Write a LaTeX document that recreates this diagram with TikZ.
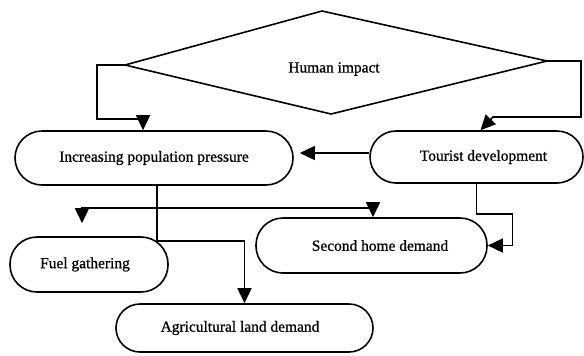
\documentclass[tikz,border=0pt]{standalone}
\usepackage{fontspec}
\setmainfont[FakeBold=0.8]{Liberation Serif}
\usetikzlibrary{arrows.meta,calc}
\begin{document}
\begin{tikzpicture}[x=1bp,y=-1bp,line width=1.6bp,
  box/.style={draw,inner sep=0pt,font=\fontsize{15.5}{18}\selectfont},
  lbl/.style={inner sep=0pt,font=\fontsize{15.5}{18}\selectfont},
  arr/.style={-{Triangle[length=15bp,width=14bp]}}]
\useasboundingbox (0,0) rectangle (584,355);
% diamond
\coordinate (dl) at (125,65);
\coordinate (dt) at (322,11);
\coordinate (dr) at (547,61);
\coordinate (db) at (331,114);
\draw[line join=miter] (dl) -- (dt) -- (dr) -- (db) -- cycle;
\node[lbl] (hi) at (334,69) {Human impact};
% boxes
\node[box,rounded corners=27bp,minimum width=278bp,minimum height=54bp] (inc) at (154,158) {Increasing population pressure};
\node[box,rounded corners=26bp,minimum width=213bp,minimum height=52bp] (tour) at (476.5,157) {\hspace*{14bp}Tourist development};
\node[box,rounded corners=27bp,minimum width=158bp,minimum height=55bp] (fuel) at (89,264.5) {Fuel gathering\hspace*{8bp}};
\node[box,rounded corners=27bp,minimum width=231bp,minimum height=55bp] (home) at (371.5,245.5) {\hspace*{17bp}Second home demand};
\node[box,rounded corners=24bp,minimum width=257bp,minimum height=48bp] (agri) at (244.5,328) {Agricultural land demand\hspace*{9bp}};
% connectors
\draw[arr] (dl) -- ++(-28,0) |- ($(inc.north)+(-11,-11)$) -- ($(inc.north)+(-11,0)$);
\draw[arr] (dr) -- ++(34,0) |- (493,117) -- ($(tour.north)+(4,0)$);
\draw[arr] ($(tour.west)+(0,-4)$) -- ($(inc.east)+(6,-5)$);
\draw[arr] ($(inc.south)+(3,0)$) |- ($(agri.north)+(0,-62)$) -- (agri.north);
\coordinate (bar) at ($(inc.south)+(3,22)$);
\draw[arr] (bar) -| ($(fuel.north)+(-7,-13)$);
\draw[arr] (bar) -| ($(home.north)+(1.5,0)$);
\draw[arr] (tour.south) -- ++(0,30) -- ++(36,0) |- (home.east);
\end{tikzpicture}
\end{document}
